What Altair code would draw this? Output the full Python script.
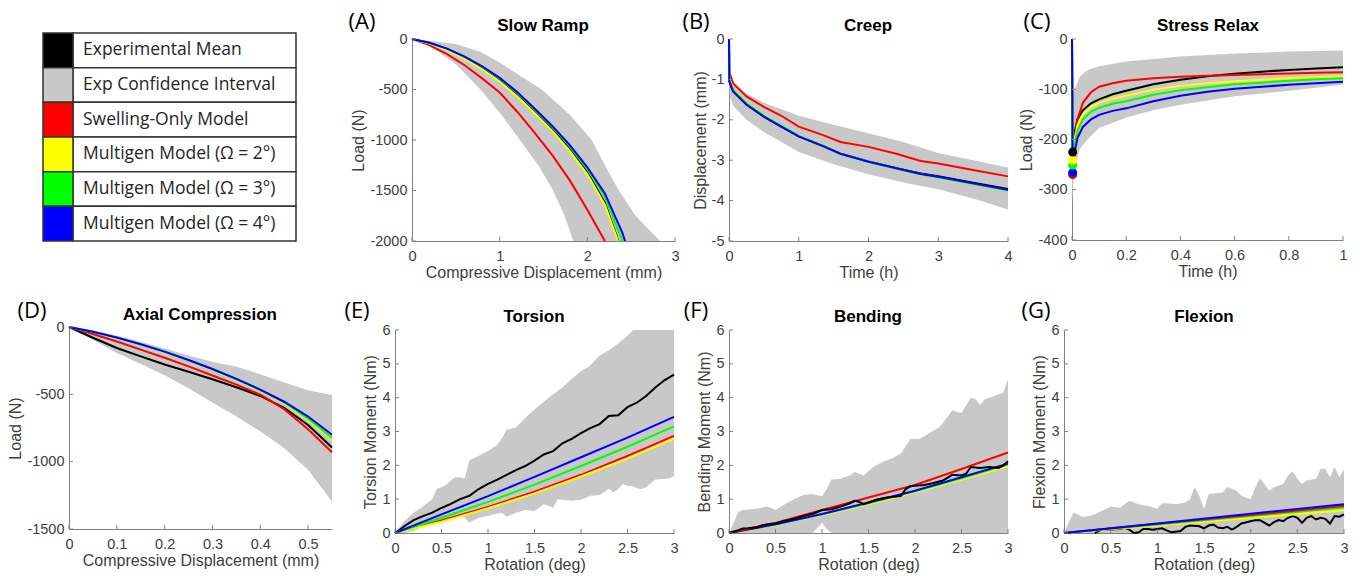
import altair as alt
import pandas as pd

W, H = 1360, 576
BAND = "#c8c8c8"
AXIS_COLOR = "#808080"
TEXT_COLOR = "#404040"
NUM_FONT = "Liberation Sans"
LBL_FONT = "Open Sans"
C = {"black": "#000000", "red": "#ff0000", "yellow": "#ffff00", "green": "#00ff00", "blue": "#0000ff"}

# ---------------- legend ----------------
legend_labels = ["Experimental Mean", "Exp Confidence Interval", "Swelling-Only Model",
                 "Multigen Model (\u03a9 = 2\u00b0)", "Multigen Model (\u03a9 = 3\u00b0)",
                 "Multigen Model (\u03a9 = 4\u00b0)"]
legend_colors = ["#000000", BAND, "#ff0000", "#ffff00", "#00ff00", "#0000ff"]

# ---------------- (A) Slow Ramp ----------------
A_band_load = [0, -50, -125, -250, -500, -750, -1000, -1250, -1500, -1750, -2000]
A_band_xlo = [0, 0.14, 0.3, 0.5, 0.78, 1.02, 1.23, 1.44, 1.61, 1.74, 1.84]
A_band_xup = [0, 0.5, 0.78, 1.03, 1.48, 1.8, 2.05, 2.2, 2.36, 2.55, 2.83]
A_x = [0, 0.2, 0.4, 0.6, 0.8, 1.0, 1.2, 1.4, 1.6, 1.8, 2.0, 2.2]
A_black_x = A_x + [2.355]
A_black = [0, -40, -100, -180, -280, -400, -550, -710, -890, -1080, -1320, -1620, -2000]
A_red_x = A_x
A_red = [0, -60, -150, -260, -390, -530, -720, -930, -1150, -1400, -1690, -2000]
A_yellow_x = A_x + [2.35]
A_yellow = [0, -45, -110, -195, -300, -420, -570, -735, -910, -1110, -1340, -1640, -2000]
A_green_x = A_x + [2.4]
A_green = [0, -40, -98, -178, -275, -392, -535, -700, -870, -1065, -1290, -1560, -2000]
A_blue_x = A_x + [2.4, 2.43]
A_blue = [0, -38, -95, -175, -270, -385, -525, -690, -860, -1050, -1270, -1530, -1920, -2000]

# ---------------- (B) Creep ----------------
B_band_t = [0, 0.01, 0.06, 0.25, 0.5, 1.0, 1.5, 2.0, 2.5, 3.0, 3.5, 4.0]
B_band_hi = [-0.95, -1.0, -1.1, -1.35, -1.58, -1.9, -2.12, -2.33, -2.55, -2.82, -3.0, -3.18]
B_band_lo = [-1.0, -1.4, -1.65, -2.0, -2.3, -2.8, -3.1, -3.35, -3.55, -3.72, -3.95, -4.22]
B_t = [0, 0.005, 0.06, 0.25, 0.5, 0.75, 1.0, 1.35, 1.6, 2.0, 2.4, 2.75, 3.0, 3.5, 4.0]
B_black = [0, -1.05, -1.3, -1.62, -1.92, -2.17, -2.41, -2.65, -2.84, -3.03, -3.2, -3.33, -3.4, -3.56, -3.71]
B_red = [0, -0.82, -1.1, -1.42, -1.68, -1.9, -2.17, -2.38, -2.55, -2.67, -2.84, -3.02, -3.08, -3.24, -3.4]
B_yellow = [0, -1.0, -1.24, -1.58, -1.89, -2.15, -2.4, -2.64, -2.84, -3.04, -3.21, -3.35, -3.42, -3.59, -3.75]
B_green = [0, -1.02, -1.26, -1.59, -1.9, -2.15, -2.4, -2.64, -2.84, -3.04, -3.21, -3.35, -3.42, -3.59, -3.75]
B_blue = [0, -1.05, -1.3, -1.62, -1.92, -2.17, -2.41, -2.65, -2.84, -3.04, -3.2, -3.34, -3.41, -3.57, -3.73]

# ---------------- (C) Stress Relax ----------------
C_band_t = [0, 0.0025, 0.01, 0.03, 0.06, 0.1, 0.2, 0.3, 0.4, 0.6, 0.8, 1.0]
C_band_hi = [-110, -110, -100, -74, -61, -54, -45, -40, -35, -29, -25, -23]
C_band_lo = [-330, -305, -255, -218, -198, -177, -156, -142, -131, -114, -103, -91]
C_t = [0, 0.0025, 0.01, 0.02, 0.04, 0.07, 0.1, 0.15, 0.2, 0.3, 0.4, 0.5, 0.6, 0.7, 0.8, 0.9, 1.0]
C_black = [0, -225, -185, -160, -142, -128, -120, -110, -103, -90, -81, -74, -69, -65, -61.5, -58.5, -56]
C_red = [0, -270, -195, -160, -127, -106, -95, -88, -83, -78, -75, -73, -71.5, -70, -68.5, -67, -66]
C_yellow = [0, -241, -200, -172, -150, -135, -127, -119, -113, -101, -93, -88, -84, -81, -78, -76, -74]
C_green = [0, -251, -210, -182, -160, -145, -137, -129, -124, -111, -102, -96, -90, -87, -83, -80, -78]
C_blue = [0, -266, -225, -197, -175, -160, -151, -143, -138, -124, -113, -105, -99, -95, -91, -88, -85]
C_dot_t = [0.0025, 0.0025, 0.0025, 0.0025, 0.0025]
C_dot_load = [-270, -266, -251, -241, -225]
C_dot_color = ["#ff0000", "#0000ff", "#00ff00", "#ffff00", "#000000"]

# ---------------- (D) Axial Compression ----------------
D_x = [0, 0.05, 0.1, 0.15, 0.2, 0.25, 0.3, 0.35, 0.4, 0.45, 0.5, 0.55]
D_band_hi = [0, -25, -65, -110, -160, -212, -258, -295, -350, -412, -470, -505]
D_band_lo = [0, -95, -193, -275, -358, -455, -560, -665, -775, -900, -1060, -1295]
D_black = [0, -80, -156, -218, -278, -332, -388, -447, -512, -600, -728, -895]
D_red = [0, -52, -108, -168, -228, -292, -360, -428, -503, -610, -760, -930]
D_yellow = [0, -36, -80, -131, -187, -250, -318, -392, -473, -565, -690, -835]
D_green = [0, -35, -79, -129, -185, -247, -315, -388, -469, -560, -680, -825]
D_blue = [0, -35, -78, -128, -183, -245, -312, -385, -465, -555, -665, -800]

# ---------------- (E) Torsion ----------------
E_band_x = [0, 0.1, 0.2, 0.3, 0.4, 0.45, 0.5, 0.55, 0.6, 0.65, 0.7, 0.75, 0.8, 0.9, 1.0,
            1.1, 1.15, 1.2, 1.3, 1.4, 1.5, 1.6, 1.7, 1.75, 1.8, 1.9, 2.0, 2.1, 2.2, 2.3,
            2.35, 2.4, 2.45, 2.5, 2.56, 2.6, 2.65, 2.7, 2.8, 2.9, 2.95, 3.0]
E_band_hi = [0, 0.35, 0.6, 0.78, 1.0, 1.3, 1.35, 1.42, 1.55, 1.65, 1.65, 1.62, 2.15, 2.28, 2.42,
             2.6, 2.8, 3.05, 3.12, 3.4, 3.65, 3.88, 4.1, 4.2, 4.3, 4.55, 4.78, 4.95, 5.25, 5.4,
             5.5, 5.6, 5.72, 5.82, 6, 6, 6, 6, 6, 6, 6, 6]
E_band_lo = [0, 0, 0.05, 0.2, 0.3, 0.33, 0.35, 0.38, 0.4, 0.45, 0.55, 0.45, 0.3, 0.45, 0.5,
             0.58, 0.6, 0.48, 0.6, 0.68, 0.65, 0.85, 0.75, 1.0, 0.98, 0.95, 0.98, 1.1, 1.12, 1.3,
             1.2, 1.3, 1.45, 1.4, 1.38, 1.32, 1.3, 1.35, 1.58, 1.6, 1.62, 1.68]
E_black_x = [0, 0.1, 0.2, 0.3, 0.4, 0.5, 0.6, 0.7, 0.8, 0.9, 1.0, 1.1, 1.2, 1.3, 1.4, 1.5,
             1.6, 1.7, 1.8, 1.9, 2.0, 2.1, 2.2, 2.3, 2.4, 2.5, 2.6, 2.7, 2.8, 2.9, 3.0]
E_black = [0, 0.2, 0.38, 0.5, 0.6, 0.74, 0.86, 1.0, 1.1, 1.3, 1.45, 1.58, 1.72, 1.86, 1.98, 2.14,
           2.32, 2.42, 2.65, 2.78, 2.95, 3.1, 3.22, 3.46, 3.48, 3.72, 3.85, 4.05, 4.3, 4.52, 4.68]
E_x = [0, 0.5, 1, 1.5, 2, 2.5, 3]
E_red = [0, 0.37, 0.77, 1.22, 1.72, 2.28, 2.87]
E_yellow = [0, 0.33, 0.73, 1.17, 1.67, 2.2, 2.78]
E_green = [0, 0.45, 0.92, 1.43, 1.98, 2.55, 3.15]
E_blue = [0, 0.55, 1.09, 1.66, 2.24, 2.82, 3.43]

# ---------------- (F) Bending ----------------
F_band_x = [0, 0.05, 0.1, 0.15, 0.25, 0.35, 0.4, 0.45, 0.5, 0.6, 0.7, 0.8, 0.9, 1.0, 1.05,
            1.1, 1.2, 1.3, 1.35, 1.4, 1.45, 1.55, 1.65, 1.75, 1.85, 1.95, 2.05, 2.15, 2.25, 2.3,
            2.4, 2.5, 2.6, 2.65, 2.7, 2.75, 2.85, 2.95, 3.0]
F_band_hi = [0, 0.3, 0.62, 0.68, 0.7, 0.75, 0.78, 0.75, 0.68, 0.85, 1.0, 1.12, 1.15, 1.08, 1.3,
             1.58, 1.6, 1.7, 1.8, 1.75, 1.7, 1.95, 2.1, 2.2, 2.35, 2.78, 2.78, 2.95, 3.1, 3.25,
             3.62, 3.55, 4.0, 3.95, 3.78, 3.95, 4.05, 4.15, 4.55]
F_band_lo = [0, 0, 0, 0, 0, 0, 0, 0, 0, 0, 0, 0, 0, 0.3, 0.12,
             0, 0, 0, 0, 0, 0, 0, 0, 0, 0, 0, 0, 0, 0, 0,
             0, 0, 0, 0, 0, 0, 0, 0, 0]
F_black_x = [0, 0.1, 0.15, 0.2, 0.3, 0.35, 0.4, 0.5, 0.6, 0.7, 0.8, 0.9, 0.95, 1.0, 1.1, 1.2, 1.3,
             1.35, 1.4, 1.45, 1.5, 1.6, 1.7, 1.8, 1.85, 1.9, 1.95, 2.0, 2.1, 2.2, 2.3, 2.4, 2.5,
             2.55, 2.6, 2.7, 2.8, 2.9, 2.95, 3.0]
F_black = [0, 0.08, 0.13, 0.14, 0.17, 0.22, 0.25, 0.28, 0.36, 0.42, 0.5, 0.57, 0.62, 0.68, 0.7, 0.78,
           0.88, 0.95, 0.92, 0.85, 0.9, 1.0, 1.05, 1.08, 1.1, 1.3, 1.38, 1.4, 1.42, 1.48, 1.55, 1.72,
           1.7, 1.75, 1.95, 1.92, 1.95, 1.92, 2.0, 2.12]
F_x = [0, 0.5, 1, 1.5, 2, 2.5, 3]
F_red = [0, 0.3, 0.68, 1.05, 1.42, 1.89, 2.38]
F_yellow = [0, 0.24, 0.53, 0.85, 1.2, 1.58, 1.97]
F_green = [0, 0.25, 0.55, 0.88, 1.23, 1.62, 2.02]
F_blue = [0, 0.26, 0.56, 0.9, 1.25, 1.65, 2.05]

# ---------------- (G) Flexion ----------------
G_band_x = [0, 0.05, 0.1, 0.15, 0.2, 0.3, 0.4, 0.5, 0.6, 0.7, 0.8, 0.9, 1.0, 1.05, 1.1, 1.2, 1.3,
            1.35, 1.4, 1.45, 1.5, 1.55, 1.7, 1.75, 1.85, 1.9, 2.0, 2.05, 2.1, 2.2, 2.25, 2.35, 2.4,
            2.45, 2.5, 2.55, 2.6, 2.7, 2.75, 2.8, 2.85, 2.9, 2.95, 3.0]
G_band_hi = [0, 0.3, 0.6, 0.55, 0.47, 0.52, 0.65, 0.78, 0.75, 0.95, 0.85, 0.8, 0.72, 0.88, 0.88, 0.85,
             0.9, 1.0, 1.35, 1.1, 0.7, 1.15, 1.2, 1.35, 1.25, 1.1, 1.0, 1.35, 1.62, 1.25, 1.35, 1.45,
             1.7, 1.82, 1.6, 1.45, 1.55, 1.6, 1.9, 1.9, 1.65, 1.95, 1.65, 1.88]
G_band_lo = [0] * 44
G_black_x = [0.33, 0.4, 0.5, 0.6, 0.65, 0.7, 0.75, 0.8, 0.85, 0.9, 0.95, 1.0, 1.05, 1.1, 1.15, 1.25,
             1.3, 1.35, 1.45, 1.5, 1.55, 1.6, 1.65, 1.7, 1.75, 1.8, 1.85, 1.9, 2.0, 2.05, 2.1, 2.15,
             2.2, 2.25, 2.3, 2.35, 2.4, 2.45, 2.5, 2.55, 2.6, 2.65, 2.7, 2.75, 2.8, 2.85, 2.9, 2.95, 3.0]
G_black = [0, 0.1, 0.1, 0.12, 0.15, 0.1, 0.0, 0.02, 0.12, 0.12, 0.1, 0.12, 0.14, 0.08, 0.02, 0.06,
           0.18, 0.22, 0.2, 0.14, 0.22, 0.25, 0.16, 0.14, 0.18, 0.1, 0.18, 0.28, 0.35, 0.38, 0.38, 0.3,
           0.22, 0.32, 0.38, 0.35, 0.45, 0.5, 0.45, 0.3, 0.45, 0.5, 0.4, 0.45, 0.42, 0.28, 0.5, 0.48, 0.55]
G_x = [0, 1, 2, 3]
G_red = [0, 0.27, 0.53, 0.8]
G_yellow = [0, 0.22, 0.45, 0.67]
G_green = [0, 0.25, 0.5, 0.75]
G_blue = [0, 0.28, 0.57, 0.85]

ROT_TICKS = [0, 0.5, 1, 1.5, 2, 2.5, 3]
MOM_TICKS = [0, 1, 2, 3, 4, 5, 6]

# panel frames (pixel boxes of each plot area)
P = {
    "A": dict(l=412, r=675, t=39, b=241, xd=[0, 3], yd=[-2000, 0], xt=[0, 1, 2, 3],
              yt=[-2000, -1500, -1000, -500, 0], xtitle="Compressive Displacement (mm)", ytitle="Load (N)"),
    "B": dict(l=729, r=1008, t=39, b=241, xd=[0, 4], yd=[-5, 0], xt=[0, 1, 2, 3, 4],
              yt=[-5, -4, -3, -2, -1, 0], xtitle="Time (h)", ytitle="Displacement (mm)"),
    "C": dict(l=1072, r=1343, t=39, b=240, xd=[0, 1], yd=[-400, 0], xt=[0, 0.2, 0.4, 0.6, 0.8, 1],
              yt=[-400, -300, -200, -100, 0], xtitle="Time (h)", ytitle="Load (N)"),
    "D": dict(l=69, r=332, t=327, b=529, xd=[0, 0.55], yd=[-1500, 0], xt=[0, 0.1, 0.2, 0.3, 0.4, 0.5],
              yt=[-1500, -1000, -500, 0], xtitle="Compressive Displacement (mm)", ytitle="Load (N)"),
    "E": dict(l=395, r=674, t=330, b=533, xd=[0, 3], yd=[0, 6], xt=ROT_TICKS, yt=MOM_TICKS,
              xtitle="Rotation (deg)", ytitle="Torsion Moment (Nm)"),
    "F": dict(l=729, r=1008, t=330, b=533, xd=[0, 3], yd=[0, 6], xt=ROT_TICKS, yt=MOM_TICKS,
              xtitle="Rotation (deg)", ytitle="Bending Moment (Nm)"),
    "G": dict(l=1064, r=1344, t=330, b=533, xd=[0, 3], yd=[0, 6], xt=ROT_TICKS, yt=MOM_TICKS,
              xtitle="Rotation (deg)", ytitle="Flexion Moment (Nm)"),
}


def scales(p):
    xs = alt.Scale(domain=p["xd"], range=[p["l"], p["r"]], nice=False, zero=False)
    ys = alt.Scale(domain=p["yd"], range=[p["b"], p["t"]], nice=False, zero=False)
    return xs, ys


def common_axis(**kw):
    return alt.Axis(grid=False, ticks=False, domainColor=AXIS_COLOR, domainWidth=1,
                    labelFont=NUM_FONT, labelFontSize=14.5, labelColor=TEXT_COLOR,
                    labelFlush=False, labelOverlap=False, labelExpr="'' + datum.value",
                    titleFont=NUM_FONT, titleFontSize=16, titleFontWeight="normal",
                    titleColor=TEXT_COLOR, **kw)


def x_axis(p):
    return common_axis(orient="bottom", offset=p["b"] - H, values=p["xt"], title=p["xtitle"],
                       labelPadding=8, titlePadding=2)


def y_axis(p):
    return common_axis(orient="left", offset=-p["l"], values=p["yt"], title=p["ytitle"],
                       labelPadding=5, titlePadding=3)


def line(xs_vals, ys_vals, color, p, xs, ys, width=2):
    df = pd.DataFrame({"x": xs_vals, "y": ys_vals, "i": list(range(len(xs_vals)))})
    return alt.Chart(df).mark_line(color=color, strokeWidth=width).encode(
        x=alt.X("x:Q", scale=xs, axis=x_axis(p)),
        y=alt.Y("y:Q", scale=ys, axis=y_axis(p)),
        order=alt.Order("i:Q"),
    )


def band(xv, hi, lo, p, xs, ys):
    df = pd.DataFrame({"x": xv, "hi": hi, "lo": lo})
    return alt.Chart(df).mark_area(color=BAND, opacity=1).encode(
        x=alt.X("x:Q", scale=xs, axis=x_axis(p)),
        y=alt.Y("hi:Q", scale=ys, axis=y_axis(p)),
        y2=alt.Y2("lo:Q"),
    )


def tick_rules(p, xs, ys):
    xr = alt.Chart(pd.DataFrame({"v": p["xt"]})).mark_rule(color=AXIS_COLOR, strokeWidth=1).encode(
        x=alt.X("v:Q", scale=xs, axis=x_axis(p)), y=alt.value(p["b"]), y2=alt.value(p["b"] - 4))
    yr = alt.Chart(pd.DataFrame({"v": p["yt"]})).mark_rule(color=AXIS_COLOR, strokeWidth=1).encode(
        y=alt.Y("v:Q", scale=ys, axis=y_axis(p)), x=alt.value(p["l"]), x2=alt.value(p["l"] + 4))
    return [xr, yr]


def panel(key, band_layer, series, extra=None):
    p = P[key]
    xs, ys = scales(p)
    layers = [band_layer(p, xs, ys)]
    for xv, yv, col in series:
        layers.append(line(xv, yv, C[col], p, xs, ys))
    if extra:
        layers += extra(p, xs, ys)
    layers += tick_rules(p, xs, ys)
    return alt.layer(*layers)


# A: horizontal band (parameterised by load)
def band_A(p, xs, ys):
    df = pd.DataFrame({"load": A_band_load, "xlo": A_band_xlo, "xup": A_band_xup})
    return alt.Chart(df).mark_area(color=BAND, opacity=1, orient="horizontal").encode(
        y=alt.Y("load:Q", scale=ys, axis=y_axis(p)),
        x=alt.X("xlo:Q", scale=xs, axis=x_axis(p)),
        x2=alt.X2("xup:Q"),
    )


panel_A = panel("A", band_A, [
    (A_black_x, A_black, "black"), (A_red_x, A_red, "red"), (A_yellow_x, A_yellow, "yellow"),
    (A_green_x, A_green, "green"), (A_blue_x, A_blue, "blue")])

panel_B = panel("B", lambda p, xs, ys: band(B_band_t, B_band_hi, B_band_lo, p, xs, ys), [
    (B_t, B_black, "black"), (B_t, B_red, "red"), (B_t, B_yellow, "yellow"),
    (B_t, B_green, "green"), (B_t, B_blue, "blue")])


def dots_C(p, xs, ys):
    df = pd.DataFrame({"t": C_dot_t, "v": C_dot_load, "c": C_dot_color})
    return [alt.Chart(df).mark_circle(size=80, opacity=1).encode(
        x=alt.X("t:Q", scale=xs, axis=x_axis(p)), y=alt.Y("v:Q", scale=ys, axis=y_axis(p)),
        color=alt.Color("c:N", scale=None))]


panel_C = panel("C", lambda p, xs, ys: band(C_band_t, C_band_hi, C_band_lo, p, xs, ys), [
    (C_t, C_black, "black"), (C_t, C_red, "red"), (C_t, C_yellow, "yellow"),
    (C_t, C_green, "green"), (C_t, C_blue, "blue")], extra=dots_C)

panel_D = panel("D", lambda p, xs, ys: band(D_x, D_band_hi, D_band_lo, p, xs, ys), [
    (D_x, D_black, "black"), (D_x, D_red, "red"), (D_x, D_yellow, "yellow"),
    (D_x, D_green, "green"), (D_x, D_blue, "blue")])

panel_E = panel("E", lambda p, xs, ys: band(E_band_x, E_band_hi, E_band_lo, p, xs, ys), [
    (E_black_x, E_black, "black"), (E_x, E_red, "red"), (E_x, E_yellow, "yellow"),
    (E_x, E_green, "green"), (E_x, E_blue, "blue")])

panel_F = panel("F", lambda p, xs, ys: band(F_band_x, F_band_hi, F_band_lo, p, xs, ys), [
    (F_x, F_yellow, "yellow"), (F_x, F_green, "green"), (F_x, F_blue, "blue"),
    (F_x, F_red, "red"), (F_black_x, F_black, "black")])

panel_G = panel("G", lambda p, xs, ys: band(G_band_x, G_band_hi, G_band_lo, p, xs, ys), [
    (G_black_x, G_black, "black"), (G_x, G_yellow, "yellow"), (G_x, G_green, "green"),
    (G_x, G_red, "red"), (G_x, G_blue, "blue")])

# ---------------- legend box ----------------
leg = pd.DataFrame({
    "row": list(range(6)),
    "row2": [r + 1 for r in range(6)],
    "mid": [r + 0.5 for r in range(6)],
    "label": legend_labels,
    "color": legend_colors,
})
leg_y = alt.Scale(domain=[0, 6], range=[33, 241], nice=False, zero=False)
legend_swatch = alt.Chart(leg).mark_rect(stroke="#333333", strokeWidth=1.5).encode(
    y=alt.Y("row:Q", scale=leg_y, axis=None), y2="row2:Q",
    x=alt.value(43), x2=alt.value(73), fill=alt.Color("color:N", scale=None))
legend_cell = alt.Chart(leg).mark_rect(stroke="#333333", strokeWidth=1.5, fill="white").encode(
    y=alt.Y("row:Q", scale=leg_y, axis=None), y2="row2:Q",
    x=alt.value(73), x2=alt.value(296))
legend_text = alt.Chart(leg).mark_text(align="left", baseline="middle", font=LBL_FONT,
                                       fontSize=17.5, color="#262626").encode(
    y=alt.Y("mid:Q", scale=leg_y, axis=None), x=alt.value(83), text="label:N")
legend = alt.layer(legend_cell, legend_swatch, legend_text)


# ---------------- titles and panel letters ----------------
def txt(t, x, y, size, font, weight="normal", color="#000000", align="center"):
    return alt.Chart(pd.DataFrame({"t": [t]})).mark_text(
        align=align, baseline="alphabetic", font=font, fontSize=size, fontWeight=weight,
        color=color).encode(x=alt.value(x), y=alt.value(y), text="t:N")


titles = [
    txt("Slow Ramp", 543, 31, 17, NUM_FONT, "bold"),
    txt("Creep", 868, 31, 17, NUM_FONT, "bold"),
    txt("Stress Relax", 1208, 31, 17, NUM_FONT, "bold"),
    txt("Axial Compression", 200, 320, 17, NUM_FONT, "bold"),
    txt("Torsion", 534, 322, 17, NUM_FONT, "bold"),
    txt("Bending", 868, 322, 17, NUM_FONT, "bold"),
    txt("Flexion", 1204, 322, 17, NUM_FONT, "bold"),
    txt("(A)", 362, 29, 22, LBL_FONT),
    txt("(B)", 696, 29, 22, LBL_FONT),
    txt("(C)", 1037, 29, 22, LBL_FONT),
    txt("(D)", 32, 318, 22, LBL_FONT),
    txt("(E)", 357, 318, 22, LBL_FONT),
    txt("(F)", 696, 318, 22, LBL_FONT),
    txt("(G)", 1036, 318, 22, LBL_FONT),
]

chart = alt.layer(
    legend, panel_A, panel_B, panel_C, panel_D, panel_E, panel_F, panel_G, *titles
).resolve_scale(
    x="independent", y="independent"
).properties(
    width=W, height=H, padding=0, autosize=alt.AutoSizeParams(type="none"), background="white"
).configure_view(stroke=None)

chart.save("out.html", embed_options={"renderer": "svg", "actions": False})
